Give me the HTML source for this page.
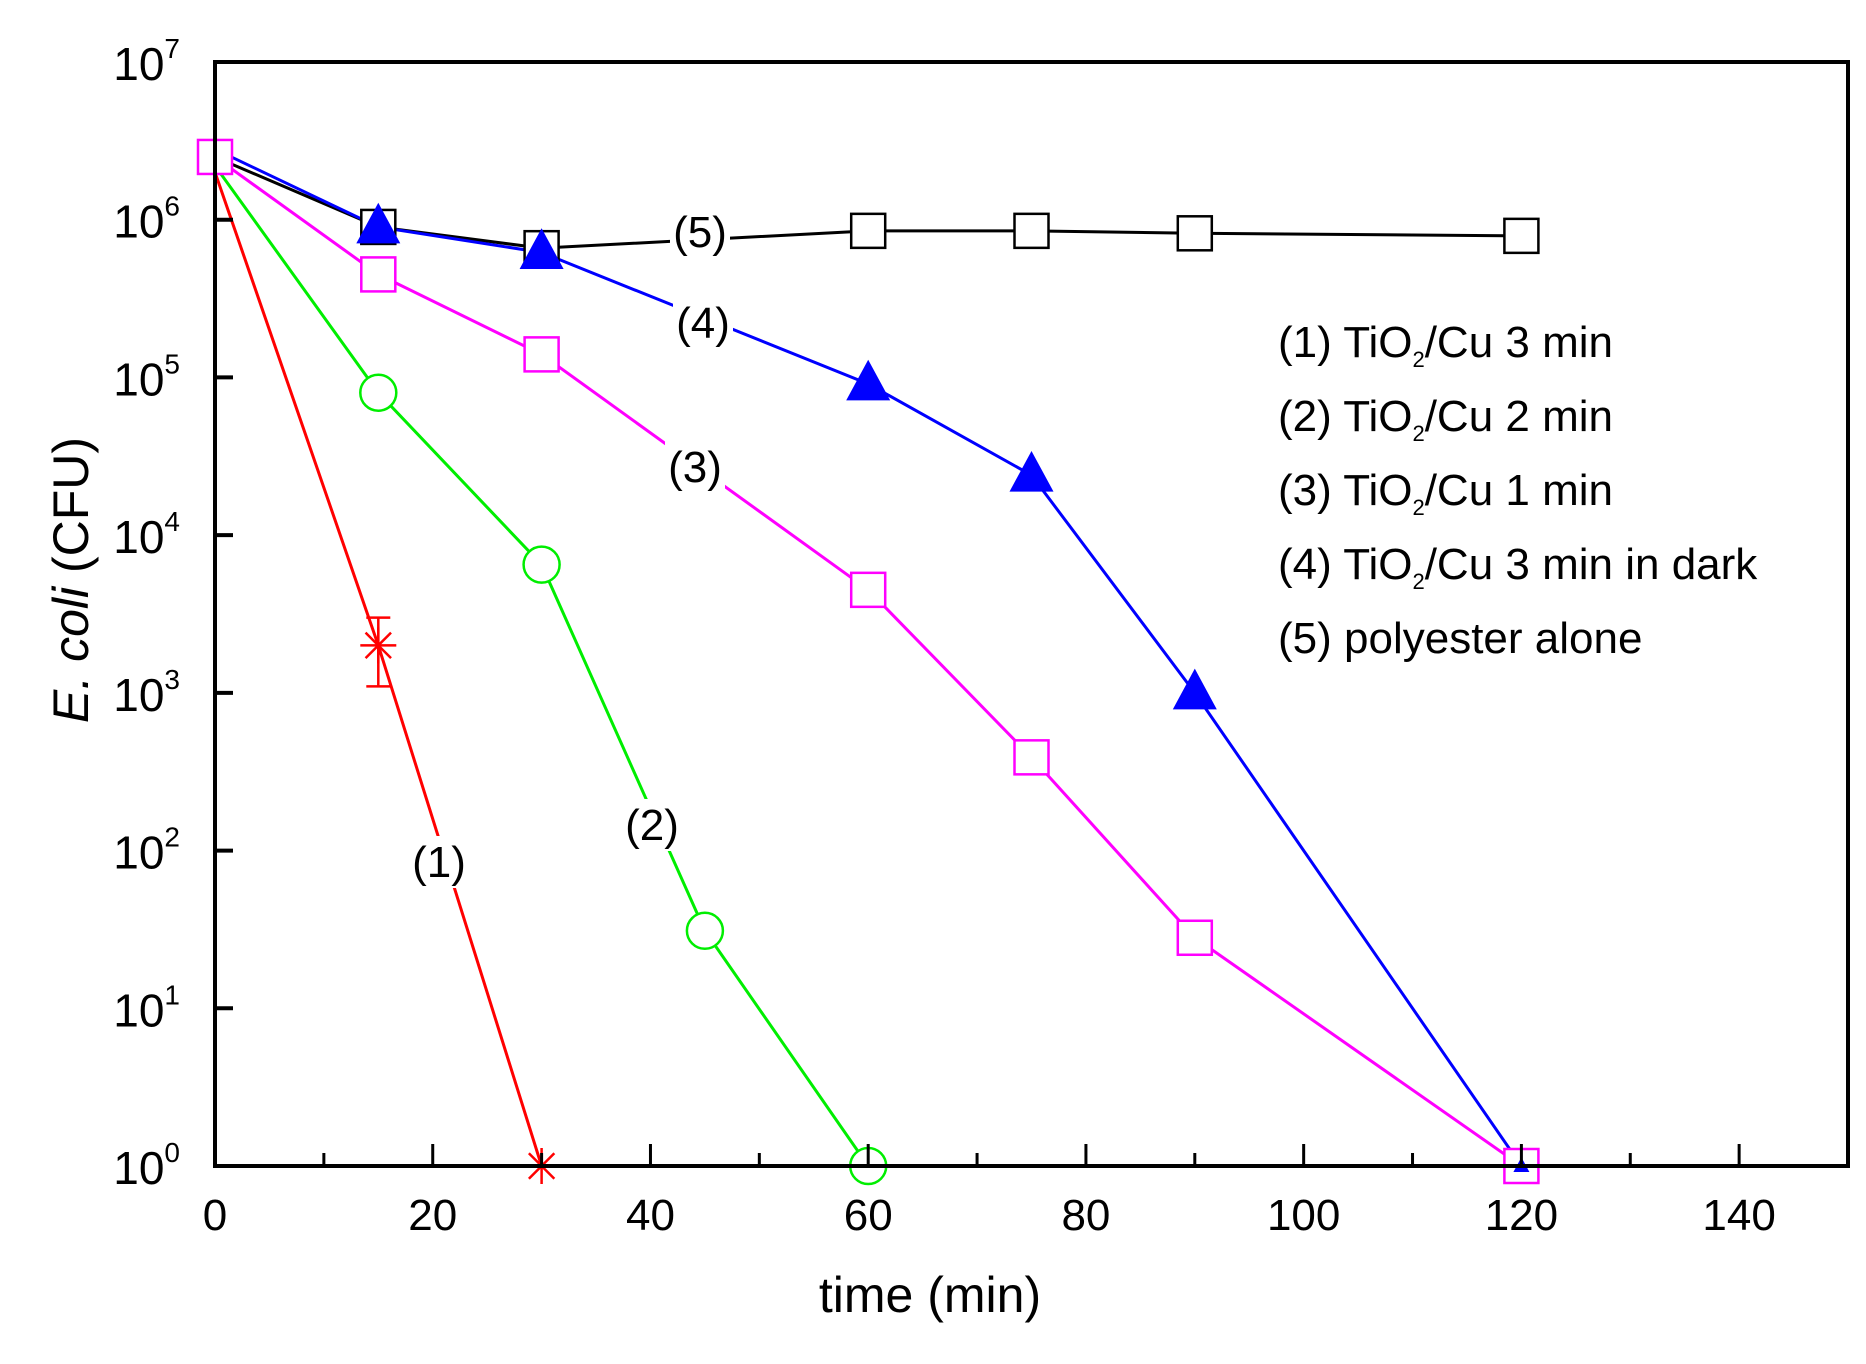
<!DOCTYPE html>
<html><head><meta charset="utf-8"><style>
html,body{margin:0;padding:0;background:#fff}
svg{display:block;font-family:"Liberation Sans",Arial,sans-serif}
</style></head><body>
<svg id="chart" width="1866" height="1364" viewBox="0 0 1866 1364">
<g id="series"></g>
<g id="axes"></g>
<g id="labels"></g>
</svg>
<script>
const s1x = [0, 15, 30];
const s1y = [2.0e6, 2.0e3, 1];
const s1errLo = [2.0e6, 1.1e3, 1];
const s1errHi = [2.0e6, 3.0e3, 1];
const s2x = [0, 15, 30, 45, 60];
const s2y = [2.2e6, 8.0e4, 6.5e3, 31, 1];
const s3x = [0, 15, 30, 60, 75, 90, 120];
const s3y = [2.5e6, 4.5e5, 1.4e5, 4.5e3, 390, 28, 1];
const s4x = [0, 15, 30, 60, 75, 90, 120];
const s4y = [2.8e6, 9.0e5, 6.2e5, 9.1e4, 2.4e4, 1.0e3, 1];
const s5x = [0, 15, 30, 60, 75, 90, 120];
const s5y = [2.5e6, 9.0e5, 6.6e5, 8.5e5, 8.5e5, 8.2e5, 7.9e5];
const xTicks = [0, 20, 40, 60, 80, 100, 120, 140];
const yExps = [0, 1, 2, 3, 4, 5, 6, 7];
const legendItems = ["(1) TiO|/Cu 3 min", "(2) TiO|/Cu 2 min", "(3) TiO|/Cu 1 min", "(4) TiO|/Cu 3 min in dark", "(5) polyester alone"];

const L=215, R=1848, T=62, B=1166;
const px = t => L + t*(R-L)/150;
const py = v => B - Math.log10(v)*(B-T)/7;
const NS="http://www.w3.org/2000/svg";
function mk(tag, attrs, parent){const e=document.createElementNS(NS,tag);for(const k in attrs)e.setAttribute(k,attrs[k]);parent.appendChild(e);return e;}
const gS=document.getElementById('series'), gA=document.getElementById('axes'), gL=document.getElementById('labels');

function line(xs, ys, color, name){
  const p=mk('polyline',{points:xs.map((x,i)=>px(x)+','+py(ys[i])).join(' '),fill:'none',stroke:color,'stroke-width':3},gS);
  
  
}
line(s5x,s5y,'#000','series-5-line');
line(s4x,s4y,'#0000ff','series-4-line');
line(s3x,s3y,'#ff00ff','series-3-line');
line(s2x,s2y,'#00ee00','series-2-line');
line(s1x,s1y,'#ff0000','series-1-line');

s5x.forEach((x,i)=>{if(i===0)return;const r=mk('rect',{x:px(x)-17,y:py(s5y[i])-17,width:34,height:34,fill:'#fff',stroke:'#000','stroke-width':2.5},gS);
});
s3x.forEach((x,i)=>{const r=mk('rect',{x:px(x)-17,y:py(s3y[i])-17,width:34,height:34,fill:'#fff',stroke:'#ff00ff','stroke-width':2.5},gS);
});
s4x.forEach((x,i)=>{if(i===0)return;const cx=px(x),cy=py(s4y[i]);const s=i===s4x.length-1?8:22;
const t=mk('polygon',{points:`${cx},${cy-s*1.1} ${cx-s},${cy+s*0.75} ${cx+s},${cy+s*0.75}`,fill:'#0000ff'},gS);
});
s2x.forEach((x,i)=>{if(i===0)return;const c=mk('circle',{cx:px(x),cy:py(s2y[i]),r:18,fill:'#fff',stroke:'#00ee00','stroke-width':2.5},gS);
});
s1x.forEach((x,i)=>{if(i===0)return;const cx=px(x),cy=py(s1y[i]);
const g=mk('g',{stroke:'#ff0000','stroke-width':2.5,fill:'none'},gS);

const yl=py(s1errLo[i]),yh=py(s1errHi[i]);
mk('line',{x1:cx,y1:yh,x2:cx,y2:yl},g);mk('line',{x1:cx-12,y1:yh,x2:cx+12,y2:yh},g);mk('line',{x1:cx-12,y1:yl,x2:cx+12,y2:yl},g);
for(let a=0;a<4;a++){const an=a*Math.PI/4;mk('line',{x1:cx-18*Math.cos(an),y1:cy-18*Math.sin(an),x2:cx+18*Math.cos(an),y2:cy+18*Math.sin(an)},g);}
});

[["(5)",700,232],["(4)",703,323],["(3)",695,467],["(2)",652,825],["(1)",439,862]].forEach(([t,x,y],i)=>{
mk('rect',{x:x-30,y:y-26,width:60,height:52,fill:'#fff'},gL);
const e=mk('text',{x:x,y:y+15,'font-size':44,'text-anchor':'middle',fill:'#000'},gL);e.textContent=t;
});

const fr=mk('rect',{x:L,y:T,width:R-L,height:B-T,fill:'none',stroke:'#000','stroke-width':4},gA);

for(let t=0;t<150;t+=10){const x=px(t);mk('line',{x1:x,y1:B,x2:x,y2:B-(t%20===0?22:13),stroke:'#000','stroke-width':3},gA);}
xTicks.forEach(t=>{const e=mk('text',{x:px(t),y:1230,'font-size':44,'text-anchor':'middle',fill:'#000'},gA);e.textContent=t;
});
yExps.forEach(k=>{const y=py(Math.pow(10,k));if(k>0&&k<7)mk('line',{x1:L,y1:y,x2:L+18,y2:y,stroke:'#000','stroke-width':4},gA);
const e=mk('text',{x:180,y:y+18,'font-size':46,'text-anchor':'end',fill:'#000'},gA);

e.textContent='10';const s=mk('tspan',{dy:-22,'font-size':28},e);s.textContent=k;});
const xt=mk('text',{x:930,y:1312,'font-size':50,'text-anchor':'middle',fill:'#000'},gA);xt.textContent='time (min)';

const yt=mk('text',{x:0,y:0,'font-size':50,'text-anchor':'middle',fill:'#000',transform:'translate(88,580) rotate(-90)'},gA);

const it=mk('tspan',{'font-style':'italic'},yt);it.textContent='E. coli';const nt=mk('tspan',{},yt);nt.textContent=' (CFU)';

legendItems.forEach((s,i)=>{const y=342+i*74;const parts=s.split('|');
const e=mk('text',{x:1278,y:y+15,'font-size':44,fill:'#000'},gA);

const t1=mk('tspan',{},e);t1.textContent=parts[0];
if(parts.length>1){const t2=mk('tspan',{dy:10,'font-size':22},e);t2.textContent='2';
const t3=mk('tspan',{dy:-10},e);t3.textContent=parts[1];}});
</script>
</body></html>
